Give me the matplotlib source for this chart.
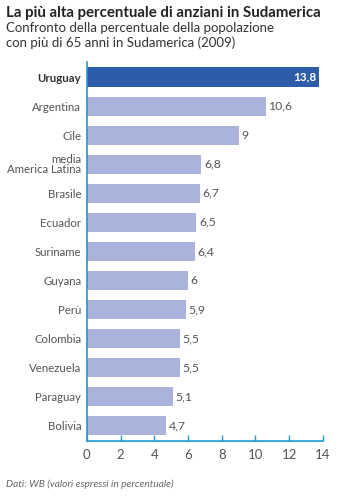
import matplotlib
matplotlib.use("Agg")
import matplotlib.pyplot as plt

categories = ["Uruguay", "Argentina", "Cile", "media\nAmerica Latina", "Brasile", "Ecuador",
              "Suriname", "Guyana", "Perù", "Colombia", "Venezuela", "Paraguay", "Bolivia"]
values = [13.8, 10.6, 9, 6.8, 6.7, 6.5, 6.4, 6, 5.9, 5.5, 5.5, 5.1, 4.7]
value_labels = ["13,8", "10,6", "9", "6,8", "6,7", "6,5", "6,4", "6", "5,9", "5,5", "5,5", "5,1", "4,7"]
xticks = [0, 2, 4, 6, 8, 10, 12, 14]

DARK = "#2D5DA8"
LIGHT = "#A9B3DC"
AXIS = "#1E9AD6"
GRAY = "#555555"

plt.rcParams['font.family'] = ['Lato', 'DejaVu Sans']

fig = plt.figure(figsize=(3.42, 5.0), dpi=100)
ax = fig.add_axes([0.254, 0.118, 0.69, 0.757])

n = len(categories)
ypos = list(range(n - 1, -1, -1))
colors = [DARK] + [LIGHT] * (n - 1)
ax.barh(ypos, values, height=0.66, color=colors, zorder=2)

for i, (y, v, lab) in enumerate(zip(ypos, values, value_labels)):
    if i == 0:
        ax.text(v - 0.15, y, lab, ha="right", va="center", color="white",
                fontsize=8.5, fontweight="bold")
    else:
        ax.text(v + 0.15, y, lab, ha="left", va="center", color=GRAY, fontsize=8.8)

ax.set_yticks(ypos)
ax.set_yticklabels(categories, fontsize=8.2, color=GRAY, linespacing=0.9)
ax.get_yticklabels()[0].set_fontweight("bold")
ax.get_yticklabels()[0].set_color("#333333")
ax.tick_params(axis="y", length=0, pad=4)

ax.set_xlim(0, 14)
ax.set_ylim(-0.52, n - 0.5)
ax.set_xticks(xticks)
ax.set_xticklabels([str(t) for t in xticks], fontsize=9.5, color=GRAY)
ax.tick_params(axis="x", direction="in", length=4, width=1, color=AXIS, pad=6)

for s in ["top", "right"]:
    ax.spines[s].set_visible(False)
for s in ["left", "bottom"]:
    ax.spines[s].set_color(AXIS)
    ax.spines[s].set_linewidth(1.2)
    ax.spines[s].set_zorder(3)

fig.text(0.018, 0.975, "La più alta percentuale di anziani in Sudamerica",
         fontsize=10.8, fontweight="bold", color="#222222", va="center", ha="left")
fig.text(0.018, 0.945, "Confronto della percentuale della popolazione",
         fontsize=9.5, color="#333333", va="center", ha="left")
fig.text(0.018, 0.915, "con più di 65 anni in Sudamerica (2009)",
         fontsize=9.5, color="#333333", va="center", ha="left")
fig.text(0.018, 0.032, "Dati: WB (valori espressi in percentuale)",
         fontsize=7.3, style="italic", color="#666666", va="center", ha="left")

fig.savefig("out.png", dpi=100)
